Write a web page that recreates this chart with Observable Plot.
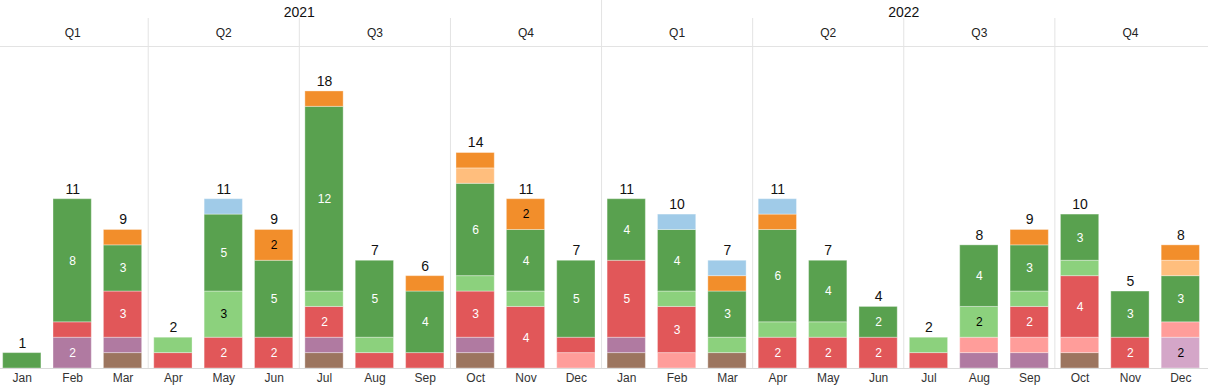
<!DOCTYPE html>
<html><head><meta charset="utf-8">
<script src="https://cdn.jsdelivr.net/npm/d3@7"></script>
<script src="https://cdn.jsdelivr.net/npm/@observablehq/plot@0.6"></script>
<style>body{margin:0;background:#fff}</style>
</head><body><div id="chart"></div>
<script>
const years = ["2021", "2022"];
const quarters = ["Q1", "Q2", "Q3", "Q4"];
const monthNames = ["Jan","Feb","Mar","Apr","May","Jun","Jul","Aug","Sep","Oct","Nov","Dec"];
const seriesNames = ["A","B","C","D","E","F","G","H","I","J"];
// values per month, Jan 2021 .. Dec 2022 (stack order bottom to top)
const sA = [0,0,1,0,0,0,1,0,0,1,0,0, 1,0,1,0,0,0,0,0,0,1,0,0];
const sB = [0,0,0,0,0,0,0,0,0,0,0,0, 0,0,0,0,0,0,0,0,0,0,0,2];
const sC = [0,2,1,0,0,0,1,0,0,1,0,0, 1,0,0,0,0,0,0,1,1,0,0,0];
const sD = [0,0,0,0,0,0,0,0,0,0,0,1, 0,1,0,0,0,0,0,1,1,1,0,1];
const sE = [0,1,3,1,2,2,2,1,1,3,4,1, 5,3,0,2,2,2,1,0,2,4,2,0];
const sF = [0,0,0,1,3,0,1,1,0,1,1,0, 0,1,1,1,1,0,1,2,1,1,0,0];
const sG = [1,8,3,0,5,5,12,5,4,6,4,5, 4,4,3,6,4,2,0,4,3,3,3,3];
const sH = [0,0,0,0,0,0,0,0,0,1,0,0, 0,0,0,0,0,0,0,0,0,0,0,1];
const sI = [0,0,1,0,0,2,1,0,1,1,2,0, 0,0,1,1,0,0,0,0,1,0,0,1];
const sJ = [0,0,0,0,1,0,0,0,0,0,0,0, 0,1,1,1,0,0,0,0,0,0,0,0];

const seriesValues = [sA,sB,sC,sD,sE,sF,sG,sH,sI,sJ];
const palette = {A:"#9c755f",B:"#d4a6c8",C:"#b07aa1",D:"#ff9d9a",E:"#e15759",F:"#8cd17d",G:"#59a14f",H:"#ffbe7d",I:"#f28e2b",J:"#a0cbe8"};
const labelInk = {A:"white",B:"black",C:"white",D:"black",E:"white",F:"black",G:"white",H:"black",I:"black",J:"black"};

const nMonths = 24;
const data = [];
for (let i = 0; i < nMonths; i++) {
  seriesNames.forEach((s, k) => {
    const v = seriesValues[k][i];
    if (v > 0) data.push({i, s, v});
  });
}
const months = d3.range(nMonths).map(i => ({
  i, label: monthNames[i % 12],
  total: d3.sum(seriesValues, arr => arr[i])
}));
const quarterRows = d3.range(8).map(k => ({k, label: quarters[k % 4]}));
const yearRows = years.map((y, j) => ({j, label: y}));

const pad = 0.12;
const grid = "#e3e3e3";
const font = "'Liberation Sans', Arial, Helvetica, sans-serif";

const chart = Plot.plot({
  width: 1208,
  height: 387,
  marginTop: 46,
  marginBottom: 19,
  marginLeft: 0,
  marginRight: 0,
  style: {fontFamily: font, fontSize: "12px", background: "white"},
  x: {domain: [0, 24], range: [-3.4, 1205.5], axis: null},
  y: {domain: [0, 20.92], range: [368, 46], axis: null},
  color: {type: "identity"},
  marks: [
    Plot.frame({anchor: "top", stroke: grid}),
    Plot.ruleX(d3.range(1, 8).filter(k => k !== 4).map(k => k * 3), {stroke: grid, insetTop: -28}),
    Plot.ruleX([12], {stroke: grid, insetTop: -46}),
    Plot.rectY(data, Plot.stackY({
      x1: d => d.i + pad, x2: d => d.i + 1 - pad, y: "v",
      z: "s", fill: d => palette[d.s],
      stroke: "white", strokeOpacity: 0.35, strokeWidth: 1
    })),
    Plot.text(data, Plot.stackY({
      x: d => d.i + 0.5, y: "v", z: "s",
      text: d => d.v >= 2 ? String(d.v) : null,
      fill: d => labelInk[d.s], fontSize: 12
    })),
    Plot.ruleY([0], {stroke: "#dadada"}),
    Plot.text(months, {x: d => d.i + 0.5, y: "total", text: d => String(d.total), dy: -10, fontSize: 14, fill: "#111"}),
    Plot.text(months, {x: d => d.i + 0.5, y: 0, text: "label", dy: 10, fontSize: 12, fill: "#333"}),
    Plot.text(quarterRows, {x: d => d.k * 3 + 1.5, frameAnchor: "top", lineAnchor: "middle", dy: -13.5, text: "label", fontSize: 12, fill: "#222"}),
    Plot.text(yearRows, {x: d => d.j * 12 + 6, frameAnchor: "top", lineAnchor: "middle", dy: -34, text: "label", fontSize: 14, fill: "#111"})
  ]
});
document.getElementById("chart").append(chart);
</script>
</body></html>
